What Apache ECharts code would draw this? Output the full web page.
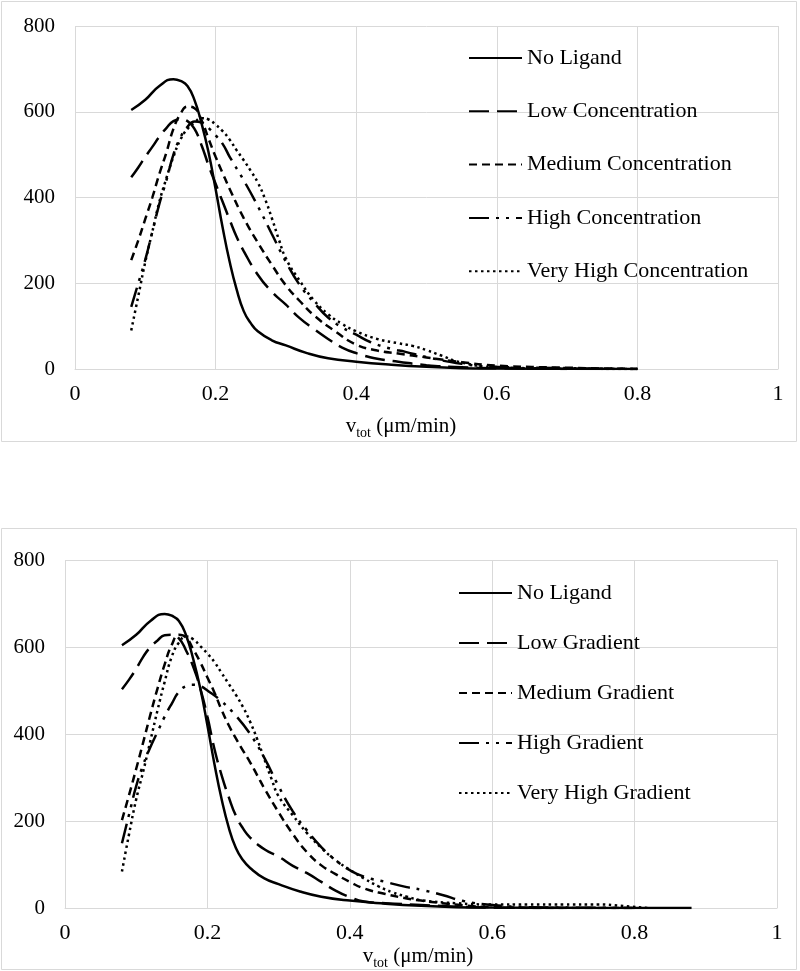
<!DOCTYPE html>
<html><head><meta charset="utf-8">
<script src="https://cdn.jsdelivr.net/npm/echarts@6/dist/echarts.min.js"></script>
<style>html,body{margin:0;padding:0;background:#fff}#c{width:800px;height:971px}</style>
</head><body><div id="c"></div>
<script>
// ---- tick labels ----
const xTicks = [0, 0.2, 0.4, 0.6, 0.8, 1];
const yTicks = [0, 200, 400, 600, 800];

// ---- top chart (ligand concentration) ----
const topNames = ['No Ligand', 'Low Concentration', 'Medium Concentration', 'High Concentration', 'Very High Concentration'];

const topNoLigandX = [0.08,0.10,0.12,0.14,0.15,0.16,0.17,0.18,0.19,0.20,0.21,0.22,0.23,0.24,0.25,0.26,0.28,0.30,0.33,0.36,0.40,0.45,0.50,0.55,0.60,0.70,0.80];
const topNoLigandV = [604,628,660,676,672,660,627,573,505,420,330,250,185,135,107,88,67,55,37,25,17,10,5,2,1,0.5,0];

const topLowX = [0.08,0.09,0.10,0.11,0.12,0.13,0.14,0.15,0.16,0.17,0.18,0.19,0.20,0.21,0.22,0.23,0.24,0.26,0.28,0.30,0.32,0.34,0.36,0.38,0.40,0.43,0.46,0.50,0.55,0.60,0.70];
const topLowV = [447,470,495,518,542,562,578,582,578,560,522,475,432,390,348,308,275,220,180,150,118,93,70,50,37,24,17,9,4,2,0];

const topMedX = [0.08,0.09,0.10,0.11,0.12,0.13,0.14,0.15,0.16,0.17,0.18,0.19,0.20,0.21,0.22,0.24,0.26,0.28,0.30,0.32,0.34,0.37,0.40,0.43,0.46,0.50,0.55,0.60,0.70,0.80];
const topMedV = [254,300,350,400,455,505,560,595,612,608,580,537,495,457,420,352,295,243,195,158,125,88,57,43,36,27,16,8,3,0];

const topHighX = [0.08,0.09,0.10,0.11,0.12,0.13,0.14,0.15,0.16,0.17,0.18,0.19,0.20,0.21,0.22,0.24,0.26,0.28,0.30,0.32,0.34,0.36,0.38,0.40,0.42,0.45,0.47,0.50,0.55,0.60,0.70,0.80];
const topHighV = [145,200,255,320,385,440,500,540,565,577,575,562,545,525,495,440,380,315,250,195,155,120,97,80,63,47,40,28,12,5,2,0];

const topVHighX = [0.08,0.09,0.10,0.11,0.12,0.13,0.14,0.15,0.16,0.17,0.18,0.19,0.20,0.21,0.22,0.23,0.24,0.25,0.26,0.27,0.28,0.29,0.30,0.32,0.34,0.36,0.38,0.40,0.43,0.46,0.48,0.50,0.52,0.55,0.60,0.70,0.80];
const topVHighV = [90,170,250,320,390,445,495,535,560,575,585,582,570,555,535,510,487,462,435,398,352,302,258,205,160,128,105,88,70,60,54,44,32,15,4,1,0];

// ---- bottom chart (ligand gradient) ----
const bottomNames = ['No Ligand', 'Low Gradient', 'Medium Gradient', 'High Gradient', 'Very High Gradient'];

const botNoLigandX = [0.08,0.10,0.12,0.14,0.15,0.16,0.17,0.18,0.19,0.20,0.21,0.22,0.23,0.24,0.25,0.26,0.28,0.30,0.33,0.36,0.40,0.45,0.50,0.55,0.60,0.70,0.80,0.88];
const botNoLigandV = [604,628,660,676,672,660,627,573,505,420,330,250,185,138,110,92,68,55,38,26,17,10,5,2,1,0.5,0,0];

const botLowX = [0.08,0.09,0.10,0.11,0.12,0.13,0.14,0.15,0.16,0.17,0.18,0.19,0.20,0.21,0.22,0.23,0.24,0.25,0.26,0.28,0.30,0.32,0.34,0.36,0.38,0.40,0.42,0.45,0.50,0.55,0.60,0.70];
const botLowV = [503,525,550,578,600,615,627,628,620,592,555,505,440,365,305,255,212,183,162,135,118,97,80,60,40,25,15,11,7,3,1,0];

const botMedX = [0.08,0.09,0.10,0.11,0.12,0.13,0.14,0.15,0.16,0.17,0.18,0.19,0.20,0.21,0.22,0.23,0.24,0.25,0.26,0.27,0.28,0.30,0.32,0.34,0.36,0.38,0.40,0.42,0.45,0.48,0.50,0.53,0.56,0.60,0.70,0.80];
const botMedV = [202,260,320,382,445,505,560,605,628,622,595,565,530,495,455,420,390,362,335,305,275,220,170,128,98,78,60,45,32,22,17,11,6,2,0,0];

const botHighX = [0.08,0.09,0.10,0.11,0.12,0.13,0.14,0.15,0.16,0.17,0.18,0.19,0.20,0.22,0.24,0.26,0.28,0.30,0.32,0.34,0.36,0.38,0.40,0.42,0.45,0.48,0.50,0.53,0.56,0.60,0.65,0.70,0.80];
const botHighV = [149,215,280,330,370,405,440,470,497,510,513,510,500,475,442,400,345,280,222,178,140,110,87,72,60,48,42,30,16,7,2,1,0];

const botVHighX = [0.08,0.09,0.10,0.11,0.12,0.13,0.14,0.15,0.16,0.17,0.18,0.19,0.20,0.21,0.22,0.23,0.24,0.25,0.26,0.27,0.28,0.29,0.30,0.32,0.34,0.36,0.38,0.40,0.42,0.44,0.46,0.48,0.50,0.55,0.60,0.65,0.70,0.75,0.78,0.82];
const botVHighV = [84,170,250,315,385,455,520,578,610,624,618,602,585,565,540,515,490,462,428,388,342,297,257,213,172,138,110,88,68,50,36,26,18,11,8,8,8,8,5,0];

// ---- styles ----
const FONT = 'Liberation Serif';
const dashes = ['solid', [20, 8], [8, 5], [20, 7, 3, 7, 3, 7], [2.5, 3.5]];

function pairs(xs, vs) { return xs.map((x, i) => [x, vs[i]]); }

const topData = [[topNoLigandX, topNoLigandV], [topLowX, topLowV], [topMedX, topMedV], [topHighX, topHighV], [topVHighX, topVHighV]];
const botData = [[botNoLigandX, botNoLigandV], [botLowX, botLowV], [botMedX, botMedV], [botHighX, botHighV], [botVHighX, botVHighV]];

const series = [];
function addSeries(names, data, axis) {
  data.forEach((d, i) => series.push({
    type: 'line', name: names[i], xAxisIndex: axis, yAxisIndex: axis,
    data: pairs(d[0], d[1]), showSymbol: false, symbol: 'none', smooth: 0.5,
    lineStyle: { color: '#000', width: 2.5, type: dashes[i] },
    itemStyle: { color: '#000' }, z: 10 - i
  }));
}
addSeries(topNames, topData, 0);
addSeries(bottomNames, botData, 1);

const grid = '#d9d9d9';
function xAxis(gi) {
  return {
    type: 'value', gridIndex: gi, min: xTicks[0], max: xTicks[xTicks.length - 1], interval: xTicks[1] - xTicks[0],
    axisLine: { show: true, lineStyle: { color: grid, width: 1 } }, axisTick: { show: false },
    splitLine: { show: true, lineStyle: { color: grid, width: 1 } },
    axisLabel: { color: '#000', fontFamily: FONT, fontSize: 22, margin: 14,
      formatter: v => String(Math.round(v * 10) / 10) }
  };
}
function yAxis(gi) {
  return {
    type: 'value', gridIndex: gi, min: yTicks[0], max: yTicks[yTicks.length - 1], interval: yTicks[1] - yTicks[0],
    axisLine: { show: false }, axisTick: { show: false },
    splitLine: { show: true, lineStyle: { color: grid, width: 1 } },
    axisLabel: { color: '#000', fontFamily: FONT, fontSize: 21, margin: 20 }
  };
}
const rich = {
  v: { fontFamily: FONT, fontSize: 21, lineHeight: 24, verticalAlign: 'top', color: '#000' },
  s: { fontFamily: FONT, fontSize: 14, lineHeight: 14, padding: [14, 0, 0, 0], verticalAlign: 'bottom', color: '#000' }
};
function legend(names, left, top, gap) {
  return {
    data: names, orient: 'vertical', left: left, top: top, padding: 0,
    itemWidth: 53, itemHeight: 14, itemGap: gap, selectedMode: false,
    itemStyle: { opacity: 0 },
    textStyle: { fontFamily: FONT, fontSize: 22, color: '#000', lineHeight: 22 }
  };
}

const chart = echarts.init(document.getElementById('c'), null, { renderer: 'canvas' });
chart.setOption({
  backgroundColor: '#fff',
  animation: false,
  grid: [
    { left: 75, top: 26, width: 703, height: 343 },
    { left: 65, top: 560, width: 712, height: 348 }
  ],
  xAxis: [xAxis(0), xAxis(1)],
  yAxis: [yAxis(0), yAxis(1)],
  legend: [legend(topNames, 468, 47, 31.3), legend(bottomNames, 458, 582, 28)],
  series: series,
  graphic: [
    { type: 'rect', shape: { x: 1.5, y: 1.5, width: 795, height: 440 }, style: { fill: 'none', stroke: grid, lineWidth: 1 }, silent: true },
    { type: 'rect', shape: { x: 1.5, y: 528.5, width: 795, height: 441 }, style: { fill: 'none', stroke: grid, lineWidth: 1 }, silent: true },
    { type: 'text', x: 401, y: 428, style: { text: '{v|v}{s|tot}{v| (μm/min)}', rich: rich, align: 'center', verticalAlign: 'middle', textAlign: 'center', textVerticalAlign: 'middle', fill: '#000' }, silent: true },
    { type: 'text', x: 418, y: 958, style: { text: '{v|v}{s|tot}{v| (μm/min)}', rich: rich, align: 'center', verticalAlign: 'middle', textAlign: 'center', textVerticalAlign: 'middle', fill: '#000' }, silent: true }
  ]
});
</script>
</body></html>
